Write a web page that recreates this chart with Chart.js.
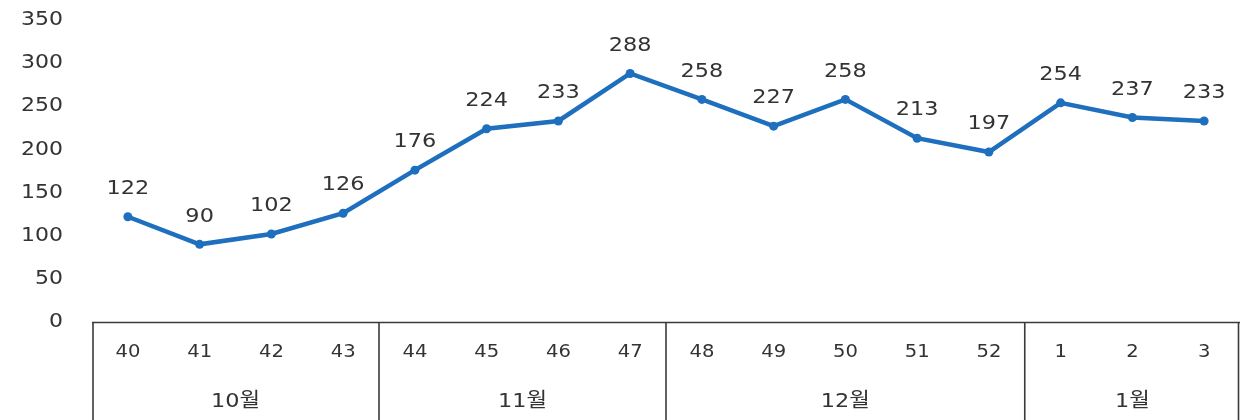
<!DOCTYPE html>
<html>
<head>
<meta charset="utf-8">
<script src="https://cdn.jsdelivr.net/npm/chart.js@4/dist/chart.umd.min.js"></script>
<style>
  html, body { margin: 0; padding: 0; background: #fff; overflow: hidden; }
  #wrap { width: 1240px; height: 420px; }
</style>
</head>
<body>
<div id="wrap"><canvas id="c"></canvas></div>
<script>
// week numbers and their month groups
const weeks = ['40', '41', '42', '43', '44', '45', '46', '47', '48', '49', '50', '51', '52', '1', '2', '3'];
const counts = [122, 90, 102, 126, 176, 224, 233, 288, 258, 227, 258, 213, 197, 254, 237, 233];
const months = ['10월', '11월', '12월', '1월'];
const monthSpans = [4, 4, 5, 3];
const yTicks = [0, 50, 100, 150, 200, 250, 300, 350];

const LINE = '#1e6fbd';
const TEXT = '#333333';
const FONT = '"DejaVu Sans", "Noto Sans CJK KR", sans-serif';

// the source picture is a bit wide, stretch text to match
function wideText(ctx, text, x, y, sx) {
    ctx.save();
    ctx.translate(x, y);
    ctx.scale(sx, 1);
    ctx.fillText(text, 0, 0);
    ctx.restore();
}

// value labels above each point
const pointLabels = {
    id: 'pointLabels',
    afterDatasetsDraw(chart) {
        const ctx = chart.ctx;
        const meta = chart.getDatasetMeta(0);
        ctx.save();
        ctx.fillStyle = TEXT;
        ctx.font = '20px ' + FONT;
        ctx.textAlign = 'center';
        ctx.textBaseline = 'middle';
        meta.data.forEach((pt, i) => {
            wideText(ctx, String(counts[i]), pt.x, pt.y - 28, 1.12);
        });
        ctx.restore();
    },
};

// two-level category axis: week numbers on top, month boxes below
const groupAxis = {
    id: 'groupAxis',
    afterDraw(chart) {
        const ctx = chart.ctx;
        const x = chart.scales.x;
        const area = chart.chartArea;
        const step = x.getPixelForValue(1) - x.getPixelForValue(0);
        const top = area.bottom;
        const bottom = chart.height + 2;

        ctx.save();
        ctx.strokeStyle = '#3a3a3a';
        ctx.lineWidth = 1.6;
        ctx.beginPath();
        ctx.moveTo(area.left, top + 0.5);
        ctx.lineTo(area.right, top + 0.5);
        ctx.stroke();

        ctx.fillStyle = TEXT;
        ctx.textAlign = 'center';
        ctx.textBaseline = 'middle';
        ctx.font = '17px ' + FONT;
        weeks.forEach((w, i) => {
            wideText(ctx, w, x.getPixelForValue(i), top + 31, 1.15);
        });

        let start = 0;
        ctx.font = '20px ' + FONT;
        months.forEach((m, k) => {
            const end = start + monthSpans[k];
            const left = x.getPixelForValue(start) - step / 2;
            const right = x.getPixelForValue(end - 1) + step / 2;
            const lx = Math.min(Math.max(left, area.left + 1), area.right - 1);
            ctx.beginPath();
            ctx.moveTo(lx, top);
            ctx.lineTo(lx, bottom);
            ctx.stroke();
            if (k === months.length - 1) {
                const rx = Math.min(right, area.right - 1.5);
                ctx.beginPath();
                ctx.moveTo(rx, top);
                ctx.lineTo(rx, bottom);
                ctx.stroke();
            }
            wideText(ctx, m, (left + right) / 2, top + 80, 1.12);
            start = end;
        });
        ctx.restore();
    },
};

// y tick labels drawn by hand so they can be stretched like the rest
const yLabels = {
    id: 'yLabels',
    afterDraw(chart) {
        const ctx = chart.ctx;
        const y = chart.scales.y;
        ctx.save();
        ctx.fillStyle = TEXT;
        ctx.font = '20px ' + FONT;
        ctx.textAlign = 'right';
        ctx.textBaseline = 'middle';
        yTicks.forEach(v => {
            wideText(ctx, String(v), 63, y.getPixelForValue(v), 1.1);
        });
        ctx.restore();
    },
};

new Chart(document.getElementById('c'), {
    type: 'line',
    data: {
        labels: weeks,
        datasets: [{
            data: counts,
            borderColor: LINE,
            backgroundColor: LINE,
            borderWidth: 4.5,
            pointRadius: 4.5,
            pointHoverRadius: 4.5,
            pointBorderWidth: 0,
            pointBackgroundColor: LINE,
            tension: 0,
        }],
    },
    options: {
        responsive: true,
        maintainAspectRatio: false,
        animation: false,
        events: [],
        layout: {
            autoPadding: false,
            padding: { top: 20, bottom: 98, left: 0, right: 0 },
        },
        plugins: {
            legend: { display: false },
            tooltip: { enabled: false },
        },
        scales: {
            x: {
                display: false,
                offset: true,
            },
            y: {
                min: 0,
                max: 350,
                afterBuildTicks(scale) {
                    scale.ticks = yTicks.map(v => ({ value: v }));
                },
                afterFit(scale) {
                    scale.width = 92;
                },
                grid: { display: false },
                border: { display: false },
                ticks: { display: false },
            },
        },
    },
    plugins: [pointLabels, groupAxis, yLabels],
});
</script>
</body>
</html>
